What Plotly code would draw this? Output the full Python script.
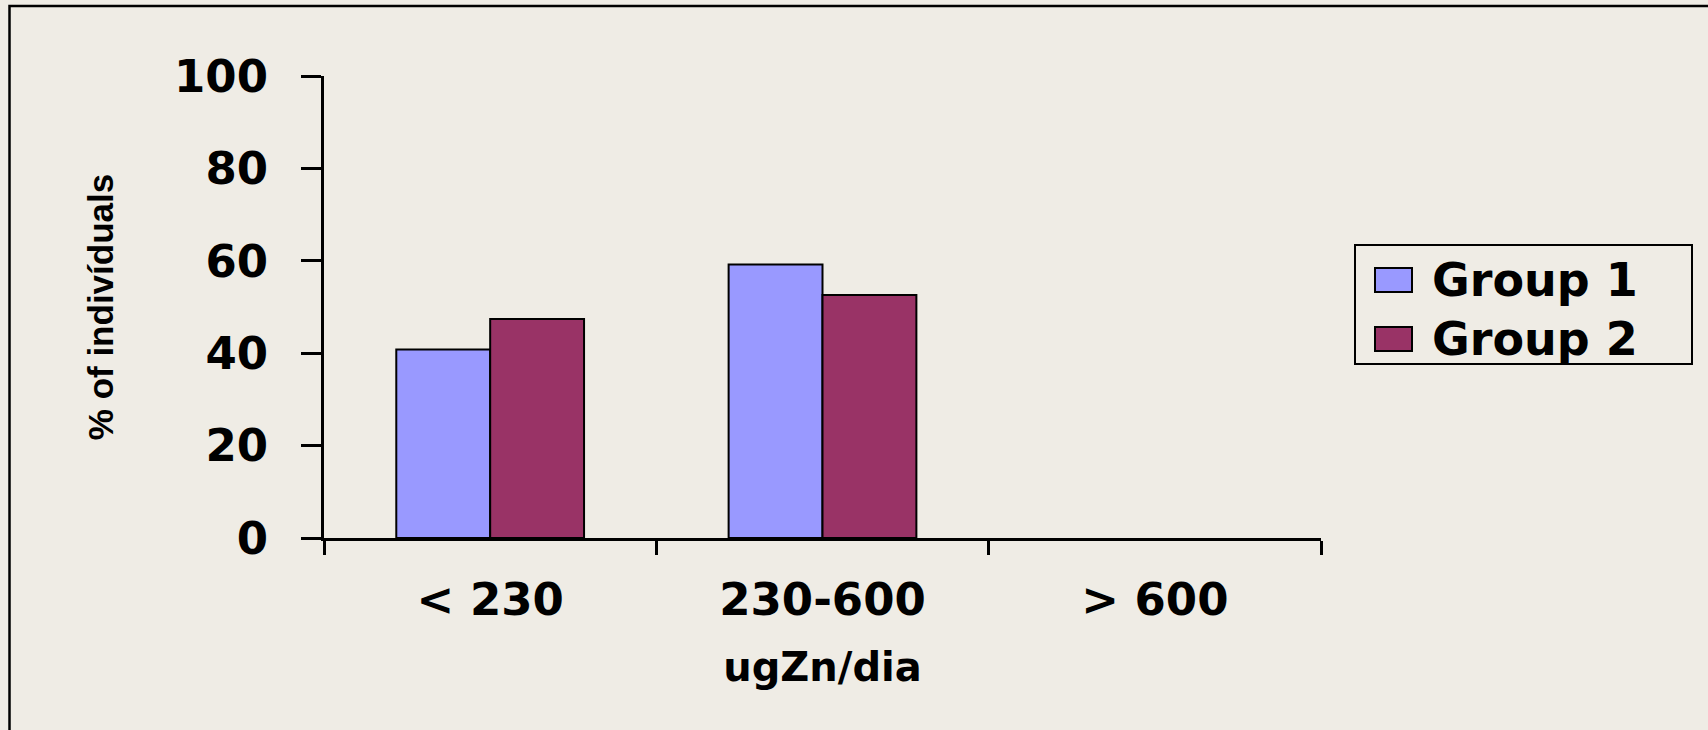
import plotly.graph_objects as go

# Zinc intake classes and share of individuals per group (%)
categories = ["< 230", "230-600", "> 600"]
group_names = ["Group 1", "Group 2"]
group1_pct = [40.8, 59.2, 0]
group2_pct = [47.4, 52.6, 0]
y_ticks = [0, 20, 40, 60, 80, 100]

colors = ["#9999FF", "#993366"]
bg = "#EFECE5"
font_family = "DejaVu Sans"

W, H = 1708, 730
L, R, T, B = 324, 387, 76, 192
PW, PH = W - L - R, H - T - B


def px_x(x):
    return (x - L) / PW


def px_y(y):
    return (H - B - y) / PH


fig = go.Figure()
for name, vals, col in zip(group_names, [group1_pct, group2_pct], colors):
    # no outline on empty bars so nothing shows on the baseline
    outline = [2 if v > 0 else 0 for v in vals]
    fig.add_trace(go.Bar(
        x=categories, y=vals, name=name,
        marker=dict(color=col, line=dict(color="black", width=outline)),
        showlegend=False,
    ))

bold = dict(family=font_family, color="black", weight="bold")

fig.update_layout(
    width=W, height=H,
    margin=dict(l=L, r=R, t=T, b=B, autoexpand=False),
    paper_bgcolor=bg, plot_bgcolor=bg,
    barmode="group", bargap=0.435, bargroupgap=0,
    xaxis=dict(
        range=[-0.5, 2.5], showline=True, linecolor="black", linewidth=3,
        ticks="outside", ticklen=14, tickwidth=3, tickcolor="black",
        tickson="boundaries", showgrid=False, zeroline=False,
        tickfont=dict(size=45, **bold), ticklabelstandoff=20,
        title=dict(text="ugZn/dia", font=dict(size=40, **bold), standoff=28),
    ),
    yaxis=dict(
        range=[0, 100], tickvals=y_ticks, showline=True, linecolor="black",
        linewidth=3, ticks="outside", ticklen=20, tickwidth=3,
        tickcolor="black", showgrid=False, zeroline=False,
        tickfont=dict(size=45, **bold), ticklabelstandoff=24,
        title=dict(text="% of indivíduals",
                   font=dict(size=35, family="Liberation Sans", color="black",
                             weight="bold"), standoff=50),
    ),
)

# Outer frame around the chart
fig.add_shape(type="rect", xref="paper", yref="paper",
              x0=px_x(9.5), x1=px_x(W + 10), y0=px_y(6), y1=px_y(H + 10),
              line=dict(color="black", width=2.5), fillcolor="rgba(0,0,0,0)",
              layer="below")

# Legend box with swatches and labels
fig.add_shape(type="rect", xref="paper", yref="paper",
              x0=px_x(1355), x1=px_x(1692), y0=px_y(245), y1=px_y(364),
              line=dict(color="black", width=2), fillcolor=bg)
row_centers = [280, 339]
for name, col, yc in zip(group_names, colors, row_centers):
    fig.add_shape(type="rect", xref="paper", yref="paper",
                  x0=px_x(1375), x1=px_x(1412), y0=px_y(yc - 12), y1=px_y(yc + 12),
                  line=dict(color="black", width=2), fillcolor=col)
    fig.add_annotation(xref="paper", yref="paper", x=px_x(1430), y=px_y(yc),
                       xanchor="left", yanchor="middle", showarrow=False,
                       text=name, font=dict(size=46, **bold))

fig.write_html("out.html")
